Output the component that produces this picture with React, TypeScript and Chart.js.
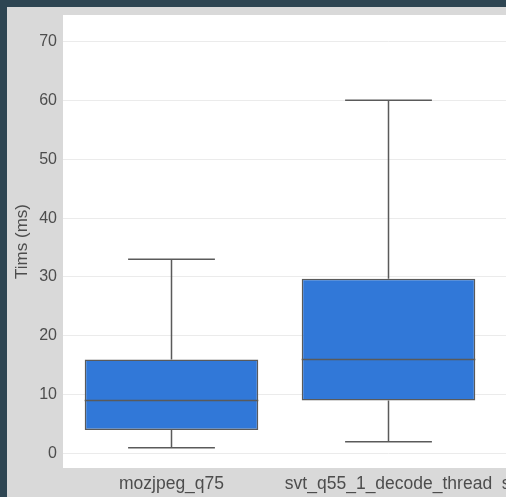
import React, { useEffect, useRef } from "react";
import { Chart, registerables } from "chart.js";

Chart.register(...registerables);

const categories = ["mozjpeg_q75", "svt_q55_1_decode_thread", "svt_q55_8_decode_thread"];
const whiskerLow = [1, 2, 1];
const q1 = [4, 9, 5];
const median = [9, 16, 12];
const q3 = [16, 29.7, 25];
const whiskerHigh = [33, 60, 71];
const yTicks = [0, 10, 20, 30, 40, 50, 60, 70];

const BOX_FILL = "#3178d8";
const LINE = "#5a5a5a";
const TEXT = "#4d4d4d";
const FONT = "'Liberation Sans', Arial, sans-serif";

const bgPlugin = {
  id: "bgPlugin",
  beforeDraw(chart: any) {
    const { ctx, chartArea } = chart;
    ctx.save();
    ctx.fillStyle = "#d9d9d9";
    ctx.fillRect(0, 0, chart.width, chart.height);
    ctx.fillStyle = "#ffffff";
    ctx.fillRect(chartArea.left, chartArea.top, chartArea.right - chartArea.left, chartArea.bottom - chartArea.top);
    ctx.restore();
  },
};

const boxPlugin = {
  id: "boxPlugin",
  afterDatasetsDraw(chart: any) {
    const { ctx, scales } = chart;
    const x = scales.x;
    const y = scales.y;
    const meta = chart.getDatasetMeta(0);
    ctx.save();
    ctx.strokeStyle = LINE;
    ctx.lineWidth = 1.5;
    categories.forEach((_, i) => {
      const bar = meta.data[i];
      const cx = x.getPixelForValue(i);
      const w = bar ? bar.width : 100;
      const capHalf = w / 4;
      const yLow = y.getPixelForValue(whiskerLow[i]);
      const yQ1 = y.getPixelForValue(q1[i]);
      const yMed = y.getPixelForValue(median[i]);
      const yQ3 = y.getPixelForValue(q3[i]);
      const yHigh = y.getPixelForValue(whiskerHigh[i]);
      ctx.beginPath();
      ctx.moveTo(cx, yQ1);
      ctx.lineTo(cx, yLow);
      ctx.moveTo(cx - capHalf, yLow);
      ctx.lineTo(cx + capHalf, yLow);
      ctx.moveTo(cx, yQ3);
      ctx.lineTo(cx, yHigh);
      ctx.moveTo(cx - capHalf, yHigh);
      ctx.lineTo(cx + capHalf, yHigh);
      ctx.moveTo(cx - w / 2, yMed);
      ctx.lineTo(cx + w / 2, yMed);
      ctx.stroke();
    });
    ctx.restore();
  },
};

export default function App() {
  const ref = useRef<HTMLCanvasElement>(null);

  useEffect(() => {
    if (!ref.current) return;
    const chart = new Chart(ref.current, {
      type: "bar",
      data: {
        labels: categories,
        datasets: [
          {
            data: categories.map((_, i) => [q1[i], q3[i]]) as any,
            backgroundColor: BOX_FILL,
            borderColor: LINE,
            borderWidth: 1.5,
            borderSkipped: false,
            barPercentage: 1,
            categoryPercentage: 0.8,
          },
        ],
      },
      options: {
        responsive: false,
        animation: false,
        layout: { padding: { top: 8, right: 23, left: 0, bottom: 0 } },
        plugins: { legend: { display: false }, tooltip: { enabled: false } },
        scales: {
          x: {
            grid: { display: false, drawTicks: false },
            border: { display: false },
            ticks: { color: TEXT, font: { family: FONT, size: 17.5 }, padding: 6, maxRotation: 0, autoSkip: false },
            afterFit(scale: any) {
              scale.height = 29;
              scale.paddingLeft = 0;
              scale.paddingRight = 0;
            },
          },
          y: {
            min: -2.45,
            max: 74.5,
            grid: { color: "#ebebeb", lineWidth: 1, drawTicks: false },
            border: { display: false },
            ticks: { color: TEXT, font: { family: FONT, size: 16 }, padding: 6 },
            afterBuildTicks(scale: any) {
              scale.ticks = yTicks.map((v) => ({ value: v }));
            },
            afterFit(scale: any) {
              scale.width = 56;
              scale.paddingTop = 0;
              scale.paddingBottom = 0;
            },
            title: {
              display: true,
              text: "Tims (ms)",
              color: TEXT,
              font: { family: FONT, size: 17 },
              padding: { top: 5, bottom: 4 },
            },
          },
        },
      },
      plugins: [bgPlugin, boxPlugin],
    });
    return () => chart.destroy();
  }, []);

  return (
    <div
      style={{
        position: "fixed",
        left: 0,
        top: 0,
        width: "100vw",
        height: "100vh",
        overflow: "hidden",
        background: "#2e4552",
      }}
    >
      <div style={{ position: "absolute", left: 7, top: 7 }}>
        <canvas ref={ref} width={730} height={490} style={{ display: "block", width: 730, height: 490 }} />
      </div>
    </div>
  );
}
